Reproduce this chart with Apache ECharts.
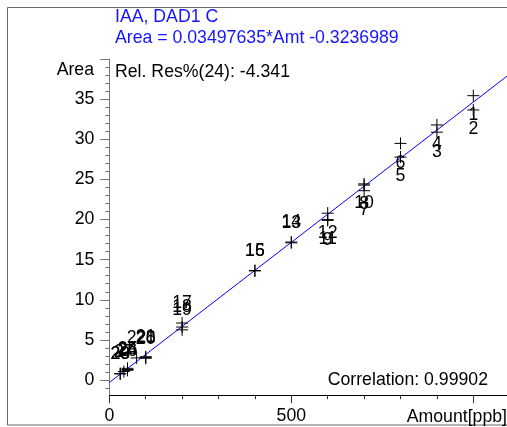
<!DOCTYPE html>
<html>
<head>
<meta charset="utf-8">
<script src="https://cdn.jsdelivr.net/npm/echarts@6/dist/echarts.min.js"></script>
<style>html,body{margin:0;padding:0;background:#fff;}#c{width:507px;height:427px;}</style>
</head>
<body>
<div id="c"></div>
<script>
// ---- data ----
const pointIds = ['1','2','3','4','5','6','7','8','10','9','11','12','13','14','15','16','17','18','19','20','21','22','28','23','24','25','26','27','29'];
const amounts  = [1000,1000,900,900,800,800,700,700,700,600,600,600,500,500,400,400,200,200,200,100,100,75,100,30,50,50,50,40,30];
const areas    = [35.45,33.67,30.9,31.8,27.8,29.5,23.6,24.3,24.45,19.9,20.0,20.8,17.1,17.2,13.6,13.65,7.1,6.6,6.25,2.7,2.9,2.75,2.8,0.75,1.3,1.45,1.2,1.05,0.8];
const fitAmt   = [0, 1100];
const fitArea  = [-0.3237, 38.150];
const yMajorTicks = [0,5,10,15,20,25,30,35,40];
const yLabels     = [0,5,10,15,20,25,30,35];
const yMinorTicks = [-1,1,2,3,4,6,7,8,9,11,12,13,14,16,17,18,19,21,22,23,24,26,27,28,29,31,32,33,34,36,37,38,39];
const xMajorTicks = [0,500,1000];
const xLabels     = [0,500];
const xMinorTicks = [100,200,300,400,600,700,800,900];
const titleLine1 = 'IAA, DAD1 C';
const titleLine2 = 'Area = 0.03497635*Amt -0.3236989';
const resText = 'Rel. Res%(24): -4.341';
const corrText = 'Correlation: 0.99902';

const FONT = 'Liberation Sans, Arial, sans-serif';
const FS = 17.7;
const BLUE = '#1414ff';

const chart = echarts.init(document.getElementById('c'), null, {renderer: 'canvas'});

const scatterData = amounts.map((a, i) => ({
  value: [a, areas[i]],
  name: pointIds[i],
  label: { position: a <= 500 ? 'top' : 'bottom', distance: 2 }
}));

const plusPath = 'path://M0,6H12M6,0V12';

chart.setOption({
  animation: false,
  backgroundColor: '#fff',
  grid: { left: 109.3, right: -2.7, top: 59.2, bottom: 31.8, containLabel: false, outerBoundsMode: 'none' },
  xAxis: [
    {
      type: 'value', min: 0, max: 1100, position: 'bottom',
      axisLine: { onZero: false, lineStyle: { color: '#000', width: 1 } },
      axisTick: { show: true, inside: false, length: 8, customValues: xMajorTicks, lineStyle: { color: '#333' } },
      axisLabel: { customValues: xLabels, fontSize: FS, fontFamily: FONT, color: '#000', margin: 12 },
      splitLine: { show: false }
    },
    {
      type: 'value', min: 0, max: 1100, position: 'bottom',
      axisLine: { show: false, onZero: false },
      axisTick: { show: true, inside: false, length: 4, customValues: xMinorTicks, lineStyle: { color: '#333' } },
      axisLabel: { show: false },
      splitLine: { show: false }
    }
  ],
  yAxis: [
    {
      type: 'value', min: -1.9, max: 40, position: 'left',
      axisLine: { show: true, onZero: false, lineStyle: { color: '#777', width: 1 } },
      axisTick: { show: true, inside: false, length: 9, customValues: yMajorTicks, lineStyle: { color: '#777' } },
      axisLabel: { customValues: yLabels, fontSize: FS, fontFamily: FONT, color: '#000', margin: 15 },
      splitLine: { show: false }
    },
    {
      type: 'value', min: -1.9, max: 40, position: 'left',
      axisLine: { show: false, onZero: false },
      axisTick: { show: true, inside: false, length: 4, customValues: yMinorTicks, lineStyle: { color: '#777' } },
      axisLabel: { show: false },
      splitLine: { show: false }
    }
  ],
  series: [
    {
      type: 'line',
      xAxisIndex: 0, yAxisIndex: 0,
      data: fitAmt.map((a, i) => [a, fitArea[i]]),
      showSymbol: false, symbol: 'none',
      lineStyle: { color: '#0000ff', width: 1 },
      clip: true, silent: true, z: 2
    },
    {
      type: 'scatter',
      xAxisIndex: 0, yAxisIndex: 0,
      data: scatterData,
      symbol: plusPath, symbolSize: 12,
      itemStyle: { color: 'none', borderColor: '#000', borderWidth: 1, opacity: 1 },
      label: {
        show: true,
        formatter: p => p.name,
        fontSize: FS, fontFamily: FONT, color: '#000'
      },
      labelLayout: { hideOverlap: false },
      z: 3
    }
  ],
  graphic: [
    { type: 'rect', silent: true, shape: { x: 7.5, y: 7.5, width: 530, height: 417.5 },
      style: { fill: 'none', stroke: '#666', lineWidth: 1 }, z: 0 },
    { type: 'text', left: 115, top: 8, silent: true,
      style: { text: titleLine1, fill: BLUE, font: FS + 'px ' + FONT } },
    { type: 'text', left: 115, top: 29, silent: true,
      style: { text: titleLine2, fill: BLUE, font: FS + 'px ' + FONT } },
    { type: 'text', left: 115, top: 63, silent: true,
      style: { text: resText, fill: '#000', font: FS + 'px ' + FONT } },
    { type: 'text', x: 94, y: 70, silent: true,
      style: { text: 'Area', fill: '#000', font: FS + 'px ' + FONT, align: 'right', verticalAlign: 'middle' } },
    { type: 'text', x: 488, y: 380, silent: true,
      style: { text: corrText, fill: '#000', font: FS + 'px ' + FONT, align: 'right', verticalAlign: 'middle' } },
    { type: 'text', x: 507, y: 417, silent: true,
      style: { text: 'Amount[ppb]', fill: '#000', font: FS + 'px ' + FONT, align: 'right', verticalAlign: 'middle' } }
  ]
});
</script>
</body>
</html>
